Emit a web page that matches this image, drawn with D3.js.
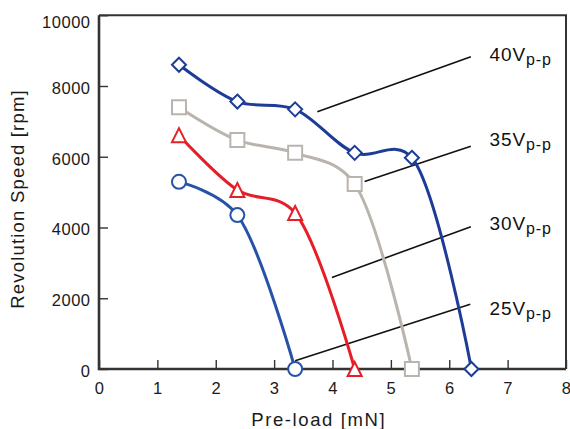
<!DOCTYPE html>
<html>
<head>
<meta charset="utf-8">
<script src="https://cdn.jsdelivr.net/npm/d3@7"></script>
<style>
  html, body { margin: 0; padding: 0; background: #fff; }
  svg { display: block; font-family: "Liberation Sans", Arial, Helvetica, sans-serif; }
</style>
</head>
<body>
<svg id="chart" width="570" height="429"></svg>
<script>
// Pre-load [mN] positions of the measured points
const preload40 = [1.37, 2.37, 3.36, 4.38, 5.36, 6.38];
const preload35 = [1.37, 2.37, 3.36, 4.38, 5.36];
const preload30 = [1.37, 2.37, 3.36, 4.38];
const preload25 = [1.37, 2.37, 3.36];

// Revolution speed [rpm] for each drive voltage
const speed40 = [8600, 7560, 7340, 6110, 5970, 0];
const speed35 = [7400, 6470, 6110, 5230, 0];
const speed30 = [6610, 5060, 4410, 0];
const speed25 = [5290, 4350, 0];

const seriesNames = ["40", "35", "30", "25"];

// Axis ticks
const xTicks = [0, 1, 2, 3, 4, 5, 6, 7, 8];
const yTicks = [0, 2000, 4000, 6000, 8000, 10000];

// Leader lines for the voltage labels: [x1, y1, x2, y2] in data units
const leader40 = [3.74, 7270, 6.37, 8830];
const leader35 = [4.55, 5300, 6.37, 6300];
const leader30 = [3.99, 2590, 6.37, 4020];
const leader25 = [3.36, 230, 6.36, 1830];
// Label anchor (left x, baseline y) in data units
const labelPos = [[6.69, 8700], [6.69, 6300], [6.69, 3940], [6.69, 1530]];

const svg = d3.select("#chart");
const plotLeft = 99, plotRight = 566, plotTop = 15.25, plotBottom = 369;

const x = d3.scaleLinear().domain([0, 8]).range([plotLeft, plotRight]);
const y = d3.scaleLinear().domain([0, 10000]).range([plotBottom, plotTop]);

const series = [
  { name: seriesNames[0], xs: preload40, ys: speed40, color: "#1d3c96", marker: "diamond", leader: leader40 },
  { name: seriesNames[1], xs: preload35, ys: speed35, color: "#b9b5ae", marker: "square",  leader: leader35 },
  { name: seriesNames[2], xs: preload30, ys: speed30, color: "#e61e28", marker: "triangle", leader: leader30 },
  { name: seriesNames[3], xs: preload25, ys: speed25, color: "#2752a6", marker: "circle",  leader: leader25 }
];

const axisColor = "#333";

// X axis (ticks point inward)
const xAxis = svg.append("g")
  .attr("transform", `translate(0,${plotBottom})`)
  .call(d3.axisBottom(x).tickValues(xTicks).tickFormat(d3.format("d"))
        .tickSizeInner(-9).tickSizeOuter(0).tickPadding(13));
xAxis.select(".domain").remove();
xAxis.selectAll("line").attr("stroke", axisColor).attr("stroke-width", 1.4);
xAxis.selectAll("text").attr("font-size", 16.5).attr("fill", "#1a1a1a")
  .attr("font-family", "Liberation Sans, Arial, sans-serif").style("letter-spacing", "0.5px");

// Y axis
const yAxis = svg.append("g")
  .attr("transform", `translate(${plotLeft},0)`)
  .call(d3.axisLeft(y).tickValues(yTicks).tickFormat(d3.format("d"))
        .tickSizeInner(-9).tickSizeOuter(0).tickPadding(8.5));
yAxis.select(".domain").remove();
yAxis.selectAll("line").attr("stroke", axisColor).attr("stroke-width", 1.4);
yAxis.selectAll("text").attr("font-size", 16.5).attr("fill", "#1a1a1a")
  .attr("font-family", "Liberation Sans, Arial, sans-serif").style("letter-spacing", "0.5px")
  .attr("dy", d => d === 10000 ? "0.72em" : "0.45em");

// Plot frame
svg.append("path")
  .attr("d", `M${plotLeft},${plotTop}H${plotRight}V${plotBottom}`)
  .attr("fill", "none").attr("stroke", axisColor).attr("stroke-width", 2);
svg.append("path")
  .attr("d", `M${plotLeft},${plotTop}V${plotBottom}H${plotRight}`)
  .attr("fill", "none").attr("stroke", axisColor).attr("stroke-width", 2.6);

// Axis titles
svg.append("text")
  .attr("x", 318.7).attr("y", 425.5)
  .attr("text-anchor", "middle").attr("font-size", 18.5).attr("fill", "#1a1a1a")
  .style("letter-spacing", "1.6px")
  .text("Pre-load [mN]");
svg.append("text")
  .attr("transform", "translate(23.5,199) rotate(-90)")
  .attr("text-anchor", "middle").attr("font-size", 18.5).attr("fill", "#1a1a1a")
  .style("letter-spacing", "1.2px")
  .text("Revolution Speed [rpm]");

// Leader lines
svg.append("g").selectAll("line").data(series).join("line")
  .attr("x1", d => x(d.leader[0])).attr("y1", d => y(d.leader[1]))
  .attr("x2", d => x(d.leader[2])).attr("y2", d => y(d.leader[3]))
  .attr("stroke", "#111").attr("stroke-width", 1.6);

// Smoothed curves through the measured points
const line = d3.line()
  .x(d => x(d[0])).y(d => y(d[1]))
  .curve(d3.curveCatmullRom.alpha(0.3));

const g = svg.append("g");
series.forEach(s => {
  const pts = s.xs.map((v, i) => [v, s.ys[i]]);
  g.append("path")
    .datum(pts)
    .attr("d", line)
    .attr("fill", "none")
    .attr("stroke", s.color)
    .attr("stroke-width", 3)
    .attr("stroke-linejoin", "round");
});

// Markers (open symbols)
function markerPath(type) {
  const r = 7;
  switch (type) {
    case "diamond": return `M0,${-r}L${r},0L0,${r}L${-r},0Z`;
    case "square": return `M${-r},${-r}H${r}V${r}H${-r}Z`;
    case "triangle": return `M0,${-r}L${r},${r}L${-r},${r}Z`;
    default: return d3.arc()({ innerRadius: 0, outerRadius: r, startAngle: 0, endAngle: 2 * Math.PI });
  }
}
series.forEach(s => {
  const pts = s.xs.map((v, i) => [v, s.ys[i]]);
  g.append("g").selectAll("path").data(pts).join("path")
    .attr("transform", d => `translate(${x(d[0])},${y(d[1])})`)
    .attr("d", markerPath(s.marker))
    .attr("fill", "#fff")
    .attr("stroke", s.color)
    .attr("stroke-width", 2);
});

// Voltage labels with p-p subscript
const labels = svg.append("g");
series.forEach((s, i) => {
  const t = labels.append("text")
    .attr("x", x(labelPos[i][0])).attr("y", y(labelPos[i][1]))
    .attr("font-size", 19).attr("fill", "#111")
    .style("letter-spacing", "0.9px");
  t.append("tspan").text(s.name + "V");
  t.append("tspan").attr("font-size", 16).attr("dy", 4).text("p-p");
});
</script>
</body>
</html>
